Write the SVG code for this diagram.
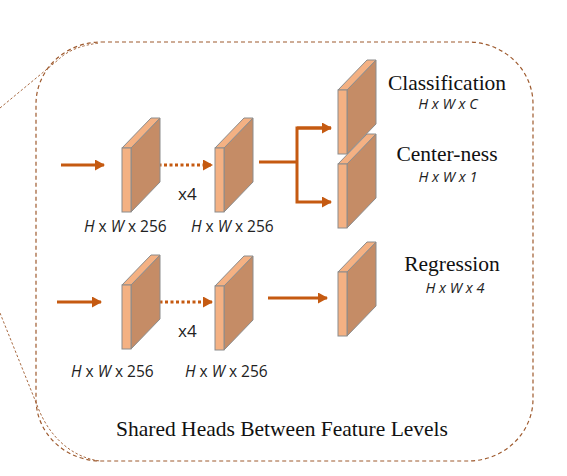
<svg xmlns="http://www.w3.org/2000/svg" width="567" height="476" viewBox="0 0 567 476">
<style>
.frame{fill:none;stroke:#9E5A2E;stroke-width:1.2;stroke-dasharray:4,3}
.thin{fill:none;stroke:#9E5A2E;stroke-width:0.9;stroke-dasharray:2.5,2}
.front{fill:#F4B183;stroke:#8C8C8C;stroke-width:1}
.side{fill:#C58C66;stroke:#8C8C8C;stroke-width:1}
.arr{fill:none;stroke:#C55A11;stroke-width:3}
.dot{fill:none;stroke:#C55A11;stroke-width:3;stroke-dasharray:3,2.5}
.serif{font-family:"Liberation Serif","Times New Roman",serif;font-size:21.5px;fill:#111;text-anchor:middle}
.dim{font-family:"Open Sans","Noto Sans",sans-serif;font-size:15.5px;fill:#222}
.sub{font-size:14.5px}
.it{font-style:italic}
</style>
<defs>
<marker id="ah" markerUnits="userSpaceOnUse" markerWidth="12" markerHeight="12" refX="9" refY="5.5" orient="auto">
<path d="M0,0 L10,5.5 L0,11 Z" fill="#C55A11"/>
</marker>
<g id="plate">
<polygon class="side" points="9,0 38,-30 38,34 9,64"/>
<polygon class="front" points="0,0 9,0 38,-30 29,-30"/>
<rect class="front" x="0" y="0" width="9" height="64"/>
</g>
</defs>
<g id="frame">
<rect class="frame" x="36" y="42" width="497" height="419" rx="65" ry="62"/>
<path class="thin" d="M0,108 L58,60 Q72,46 100,43"/>
<path class="thin" d="M0,313 L37,405 C48,435 70,457 100,461"/>
</g>
<g id="connectors">
<line class="arr" x1="61" y1="165" x2="104" y2="165" marker-end="url(#ah)"/>
<line class="dot" x1="153" y1="165" x2="212" y2="165" marker-end="url(#ah)"/>
<polyline class="arr" points="259,162 297,162"/>
<polyline class="arr" points="331,128 297,128 297,202 331,202" marker-end="url(#ah)"/>
<line class="arr" x1="297" y1="128" x2="331" y2="128" marker-end="url(#ah)"/>
<line class="arr" x1="57" y1="302" x2="101" y2="302" marker-end="url(#ah)"/>
<line class="dot" x1="154" y1="302" x2="212" y2="302" marker-end="url(#ah)"/>
<line class="arr" x1="268" y1="298" x2="327" y2="298" marker-end="url(#ah)"/>
</g>
<g id="plate1"><use href="#plate" x="122" y="148"/><text class="dim" x="84" y="232"><tspan class="it">H</tspan> x <tspan class="it">W</tspan> x 256</text></g>
<g id="plate2"><use href="#plate" x="215" y="148"/><text class="dim" x="178" y="200" style="font-size:17px">x4</text><text class="dim" x="191" y="232"><tspan class="it">H</tspan> x <tspan class="it">W</tspan> x 256</text></g>
<g id="cls"><use href="#plate" x="338" y="90"/><text class="serif" x="447" y="90">Classification</text><text class="dim sub it" x="448" y="109" text-anchor="middle">H x W x C</text></g>
<g id="ctr"><use href="#plate" x="338" y="164"/><text class="serif" x="447" y="161">Center-ness</text><text class="dim sub it" x="448" y="182" text-anchor="middle">H x W x 1</text></g>
<g id="plate3"><use href="#plate" x="122" y="285"/><text class="dim" x="71" y="377"><tspan class="it">H</tspan> x <tspan class="it">W</tspan> x 256</text></g>
<g id="plate4"><use href="#plate" x="215" y="286"/><text class="dim" x="178" y="337" style="font-size:17px">x4</text><text class="dim" x="185" y="377"><tspan class="it">H</tspan> x <tspan class="it">W</tspan> x 256</text></g>
<g id="reg"><use href="#plate" x="338" y="272"/><text class="serif" x="452" y="271">Regression</text><text class="dim sub it" x="455" y="293" text-anchor="middle">H x W x 4</text></g>
<g id="title"><text class="serif" x="282" y="436">Shared Heads Between Feature Levels</text></g>
</svg>
